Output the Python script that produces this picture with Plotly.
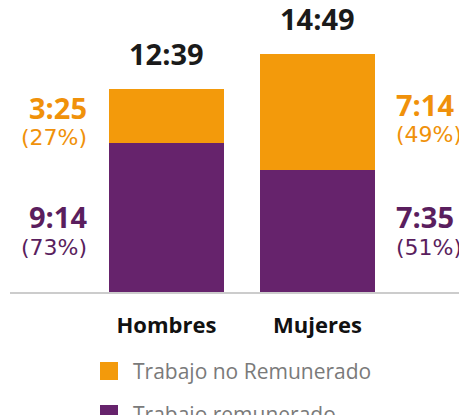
import plotly.graph_objects as go

categories = ["Hombres", "Mujeres"]
series_names = ["Trabajo remunerado", "Trabajo no Remunerado"]
remunerado_min = [554, 455]        # 9:14, 7:35
no_remunerado_min = [205, 434]     # 3:25, 7:14
remunerado_lbl = ["9:14", "7:35"]
no_remunerado_lbl = ["3:25", "7:14"]
remunerado_pct = ["(73%)", "(51%)"]
no_remunerado_pct = ["(27%)", "(49%)"]
total_lbl = ["12:39", "14:49"]

PURPLE = "#66236C"
ORANGE = "#F39A0B"
PURPLE_TXT = "#5A1E5E"
ORANGE_TXT = "#F0910A"

OFF = 8  # default page body margin
W, H = 467 - OFF, 415 - OFF
ML, MR, MT, MB = 2, 1, 0, 123
PW = W - ML - MR
PH = H - MT - MB
BARW = 0.762

def px(x):
    return (x - OFF - ML) / PW

def py(y):
    return (MT + PH - (y - OFF)) / PH

fig = go.Figure()
fig.add_trace(go.Bar(x=categories, y=remunerado_min, name=series_names[0],
                     marker=dict(color=PURPLE, line=dict(width=0)), width=BARW,
                     showlegend=False, hoverinfo="skip"))
fig.add_trace(go.Bar(x=categories, y=no_remunerado_min, name=series_names[1],
                     marker=dict(color=ORANGE, line=dict(width=0)), width=BARW,
                     showlegend=False, hoverinfo="skip"))

ann = []
# totals
for i, c in enumerate(categories):
    tot = remunerado_min[i] + no_remunerado_min[i]
    ann.append(dict(x=i, y=tot, xref="x", yref="y", text="<b>%s</b>" % total_lbl[i],
                    showarrow=False, yanchor="bottom", yshift=14,
                    font=dict(family="Open Sans", size=29, color="#1a1a1a")))

# side labels
side = [(-BARW / 2, -20, "right"), (1 + BARW / 2, 19, "left")]
rows_o = [(107, 138), (104, 135)]
rows_p = [(216, 247), (216, 247)]
for i in range(2):
    xx, xs, anc = side[i]
    ann.append(dict(x=xx, y=py(rows_o[i][0]), xref="x", yref="paper", xshift=xs,
                    text="<b>%s</b>" % no_remunerado_lbl[i], showarrow=False,
                    xanchor=anc, yanchor="middle",
                    font=dict(family="Open Sans", size=29, color=ORANGE_TXT)))
    ann.append(dict(x=xx, y=py(rows_o[i][1]), xref="x", yref="paper", xshift=xs,
                    text=no_remunerado_pct[i], showarrow=False,
                    xanchor=anc, yanchor="middle",
                    font=dict(family="DejaVu Sans", size=22, color=ORANGE_TXT)))
    ann.append(dict(x=xx, y=py(rows_p[i][0]), xref="x", yref="paper", xshift=xs,
                    text="<b>%s</b>" % remunerado_lbl[i], showarrow=False,
                    xanchor=anc, yanchor="middle",
                    font=dict(family="Open Sans", size=29, color=PURPLE_TXT)))
    ann.append(dict(x=xx, y=py(rows_p[i][1]), xref="x", yref="paper", xshift=xs,
                    text=remunerado_pct[i], showarrow=False,
                    xanchor=anc, yanchor="middle",
                    font=dict(family="DejaVu Sans", size=22, color=PURPLE_TXT)))

# custom legend
shapes = []
leg = [(series_names[1], ORANGE, 362), (series_names[0], PURPLE, 405)]
for name, col, top in leg:
    shapes.append(dict(type="rect", xref="paper", yref="paper",
                       x0=px(100), x1=px(118), y0=py(top + 18), y1=py(top),
                       fillcolor=col, line=dict(width=0)))
    ann.append(dict(x=px(131), y=py(top + 9), xref="paper", yref="paper",
                    text=name, showarrow=False, xanchor="left", yanchor="middle",
                    font=dict(family="Open Sans", size=21, color="#7a7a7a")))

fig.update_layout(
    width=W, height=H,
    margin=dict(l=ML, r=MR, t=MT, b=MB),
    barmode="stack",
    plot_bgcolor="white", paper_bgcolor="white",
    showlegend=False,
    annotations=ann, shapes=shapes,
    xaxis=dict(range=[-1.036, 1.984], showline=True, linecolor="#cccccc", linewidth=2,
               showgrid=False, zeroline=False, ticks="outside", ticklen=13,
               tickcolor="rgba(0,0,0,0)",
               tickfont=dict(family="Open Sans", size=22, color="#111111"),
               tickprefix="<b>", ticksuffix="</b>", fixedrange=True),
    yaxis=dict(range=[0, 284 / 0.2681], visible=False, fixedrange=True),
)

fig.write_html("out.html")
